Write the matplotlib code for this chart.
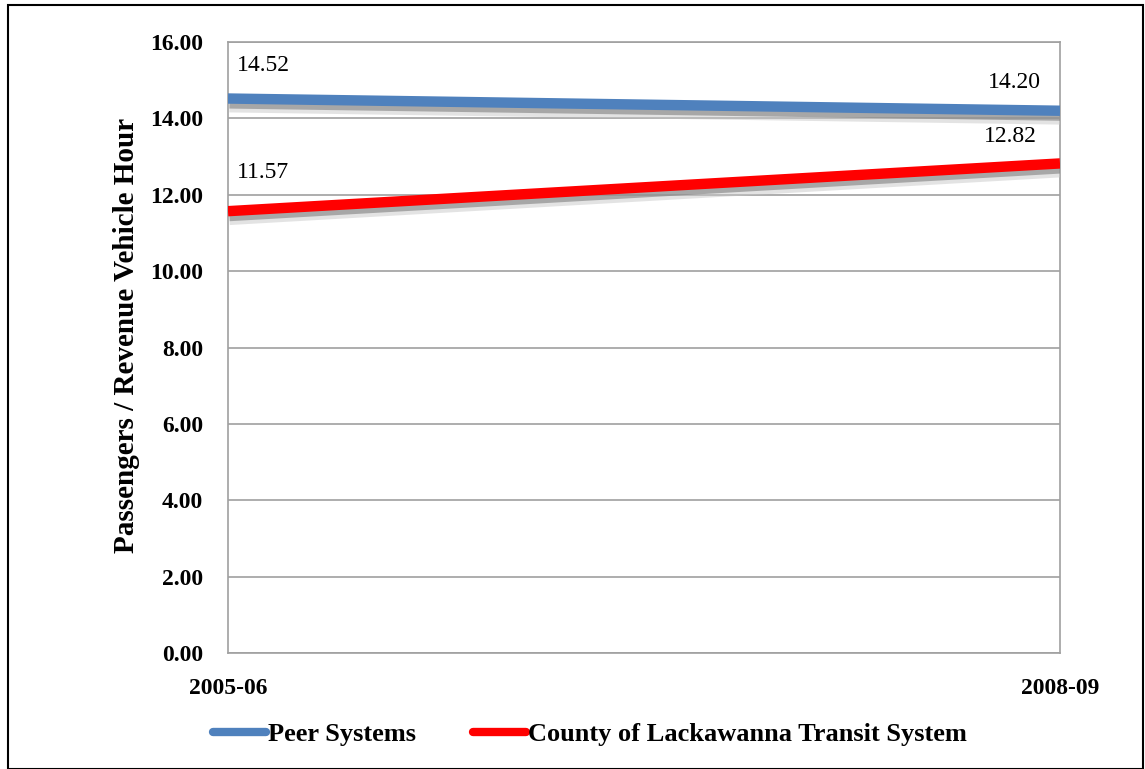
import matplotlib
matplotlib.use("Agg")
import matplotlib.pyplot as plt
import matplotlib.patheffects as pe
from matplotlib.patches import Rectangle

years = ["2005-06", "2008-09"]
peer = [14.52, 14.20]
colts = [11.57, 12.82]
series_names = ["Peer Systems", "County of Lackawanna Transit System"]
yticks = [0, 2, 4, 6, 8, 10, 12, 14, 16]

plt.rcParams['font.family'] = ['Liberation Serif', 'DejaVu Serif']

fig = plt.figure(figsize=(11.45, 7.69), dpi=100)
ax = fig.add_axes([228/1145, 1 - 653/769, (1060-228)/1145, (653-42)/769])

x = [0, 1]
shadow = [pe.SimpleLineShadow(offset=(1, -5), shadow_color='#c8c8c8', alpha=0.5, rho=1, linewidth=10),
          pe.SimpleLineShadow(offset=(1, -3.5), shadow_color='gray', alpha=0.6, rho=1),
          pe.Normal()]
ax.plot(x, peer, color='#4f81bd', lw=7.5, solid_capstyle='butt', path_effects=shadow, label=series_names[0], zorder=3)
ax.plot(x, colts, color='#ff0000', lw=7.5, solid_capstyle='butt', path_effects=shadow, label=series_names[1], zorder=3)

ax.set_xlim(0, 1)
ax.set_ylim(0, 16)
ax.set_yticks(yticks)
ax.set_yticklabels([f"{v:.2f}" for v in yticks], fontsize=17, fontweight='bold')
ax.set_xticks(x)
ax.set_xticklabels(years, fontsize=17, fontweight='bold')
ax.tick_params(axis='y', length=0, pad=18)
ax.tick_params(axis='x', length=0, pad=18)
ax.grid(axis='y', color='#a0a0a0', lw=1.2)
ax.set_axisbelow(True)
for s in ax.spines.values():
    s.set_color('#a0a0a0')
    s.set_linewidth(1.2)
ax.set_ylabel("Passengers / Revenue Vehicle Hour", fontsize=21, fontweight='bold')
ax.yaxis.set_label_coords(-0.106, 0.519)

ax.annotate(f"{peer[0]:.2f}", (x[0], peer[0]), xytext=(6.5, 24), textcoords='offset points', fontsize=17, ha='left', va='center')
ax.annotate(f"{colts[0]:.2f}", (x[0], colts[0]), xytext=(6.5, 28), textcoords='offset points', fontsize=17, ha='left', va='center')
ax.annotate(f"{peer[1]:.2f}", (x[1], peer[1]), xytext=(-14, 20.5), textcoords='offset points', fontsize=17, ha='right', va='center')
ax.annotate(f"{colts[1]:.2f}", (x[1], colts[1]), xytext=(-16.5, 19.5), textcoords='offset points', fontsize=17, ha='right', va='center')

leg = fig.legend(loc='center', bbox_to_anchor=(590/1145, 1 - 734/769), ncol=2, frameon=False,
                 prop={'weight': 'bold', 'size': 19}, handlelength=2.0, handletextpad=0.1,
                 columnspacing=2.15)
for h in leg.get_lines():
    h.set_path_effects([])
    h.set_solid_capstyle('round')
    h.set_linewidth(6)

fig.patches.append(Rectangle((8/1145, 0), 1 - 10/1145, 1 - 5/769, transform=fig.transFigure,
                             fill=False, edgecolor='black', lw=1.5))

fig.savefig("out.png", dpi=100)
